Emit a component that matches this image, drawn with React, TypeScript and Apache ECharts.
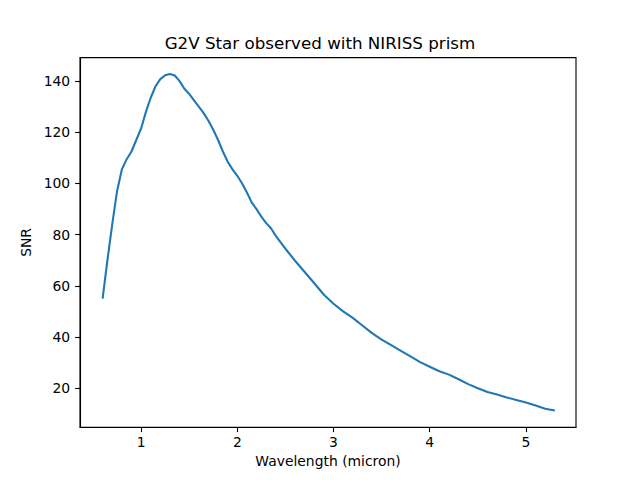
import React, { useEffect, useRef } from "react";
import * as echarts from "echarts";

const titleText = "G2V Star observed with NIRISS prism";
const xName = "Wavelength (micron)";
const yName = "SNR";

const wavelength = [
  0.6, 0.65, 0.7, 0.75, 0.8, 0.85, 0.9, 0.95, 1.0, 1.05, 1.1, 1.15, 1.2, 1.25, 1.3, 1.35, 1.4,
  1.45, 1.5, 1.55, 1.6, 1.65, 1.7, 1.75, 1.8, 1.85, 1.9, 1.95, 2.0, 2.05, 2.1, 2.15, 2.2, 2.25,
  2.3, 2.35, 2.4, 2.45, 2.5, 2.6, 2.7, 2.8, 2.9, 3.0, 3.1, 3.2, 3.3, 3.4, 3.5, 3.6, 3.7, 3.8,
  3.9, 4.0, 4.1, 4.2, 4.3, 4.4, 4.5, 4.6, 4.7, 4.8, 4.9, 5.0, 5.1, 5.2, 5.3,
];

const snr = [
  55, 70, 84, 97, 105.5, 109.5, 112.5, 117, 121.5, 128, 133.5, 138, 140.8, 142.3, 142.8, 142.2,
  140, 137, 135, 132.5, 130, 127.5, 124.5, 121, 117, 112.5, 108.5, 105.5, 103, 100, 96.5, 92.5,
  90, 87, 84.5, 82.5, 79.5, 77, 74.5, 69.8, 65.4, 61, 56.5, 53, 50, 47.5, 44.5, 41.5, 39, 36.8,
  34.6, 32.4, 30.2, 28.4, 26.6, 25.3, 23.5, 21.6, 20, 18.5, 17.5, 16.4, 15.4, 14.4, 13.2, 12,
  11.3,
];

const xTicks = [1, 2, 3, 4, 5];
const yTicks = [20, 40, 60, 80, 100, 120, 140];

export default function App() {
  const ref = useRef<HTMLDivElement>(null);
  useEffect(() => {
    document.body.style.margin = "0";
    if (!ref.current) return;
    const chart = echarts.init(ref.current, null, { renderer: "svg" });
    const font = "DejaVu Sans";
    const data = wavelength.map((w, i) => [w, snr[i]]);
    chart.setOption({
      animation: false,
      backgroundColor: "#ffffff",
      title: {
        text: titleText,
        left: "center",
        top: 34,
        padding: 0,
        textStyle: { fontFamily: font, fontSize: 16.7, fontWeight: "normal", color: "#000" },
      },
      grid: {
        left: 80,
        right: 64,
        top: 57.6,
        bottom: 52.8,
        show: true,
        borderColor: "#000",
        borderWidth: 1.1,
        backgroundColor: "#fff",
      },
      xAxis: {
        type: "value",
        min: 0.365,
        max: 5.52,
        name: xName,
        nameLocation: "middle",
        nameGap: 27,
        nameTextStyle: { fontFamily: font, fontSize: 13.9, color: "#000" },
        splitLine: { show: false },
        axisLine: { show: true, onZero: false, lineStyle: { color: "#000", width: 1.1 } },
        axisTick: { show: true, inside: false, length: 4.9, customValues: xTicks, lineStyle: { color: "#000", width: 1.1 } },
        axisLabel: { customValues: xTicks, margin: 8, fontFamily: font, fontSize: 13.9, color: "#000" },
      },
      yAxis: {
        type: "value",
        min: 4.75,
        max: 149.2,
        name: yName,
        nameLocation: "middle",
        nameGap: 42,
        nameTextStyle: { fontFamily: font, fontSize: 13.9, color: "#000" },
        splitLine: { show: false },
        axisLine: { show: true, onZero: false, lineStyle: { color: "#000", width: 1.1 } },
        axisTick: { show: true, inside: false, length: 4.9, customValues: yTicks, lineStyle: { color: "#000", width: 1.1 } },
        axisLabel: { customValues: yTicks, margin: 9.8, fontFamily: font, fontSize: 13.9, color: "#000" },
      },
      series: [
        {
          type: "line",
          data,
          showSymbol: false,
          smooth: false,
          lineStyle: { color: "#1f77b4", width: 2.08 },
          itemStyle: { color: "#1f77b4" },
        },
      ],
    });
    return () => chart.dispose();
  }, []);
  return <div ref={ref} style={{ width: 640, height: 480 }} />;
}
